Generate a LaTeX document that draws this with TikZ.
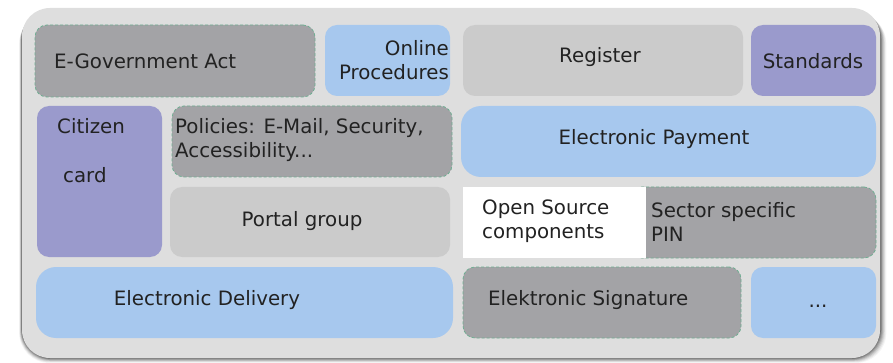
\documentclass[tikz,border=0pt]{standalone}
\usepackage{fontspec}
\setmainfont{DejaVu Sans}
\definecolor{panel}{HTML}{DEDEDE}
\definecolor{dgray}{HTML}{A3A3A6}
\definecolor{lgray}{HTML}{CBCBCB}
\definecolor{lblue}{HTML}{A7C8EE}
\definecolor{lpurp}{HTML}{9A9ACC}
\definecolor{dash}{HTML}{6FAE92}
\definecolor{txt}{HTML}{222222}
\tikzset{
  box/.style={rounded corners=12pt, inner sep=0pt, draw=none},
  dashbox/.style={box, draw=dash, line width=0.8pt, dash pattern=on 3pt off 2pt},
  lbl/.style={font=\fontsize{19.8}{24}\selectfont, text=txt, inner sep=0pt},
}
\begin{document}
\begin{tikzpicture}[x=1pt,y=-1pt]
\useasboundingbox (0,0) rectangle (893,363);
% shadow
\foreach \i/\o in {7/0.04,6/0.06,5/0.08,4/0.10,3/0.13,2/0.16,1/0.2}{
  \fill[black, opacity=\o, rounded corners=30pt] (22-0.4*\i,8+0.8*\i) rectangle (880+0.9*\i,358+0.7*\i);
}
\fill[panel, rounded corners=28pt] (22,8) rectangle (880,358);
% boxes
\node[dashbox, fill=dgray, minimum width=280pt, minimum height=72pt] (egov) at (175,61) {};
\node[box, fill=lblue, minimum width=125pt, minimum height=71pt] (online) at (387.5,60.5) {};
\node[box, fill=lgray, minimum width=280pt, minimum height=71pt] (register) at (603,60.5) {};
\node[box, fill=lpurp, minimum width=125pt, minimum height=71pt] (standards) at (813.5,60.5) {};
\node[box, fill=lpurp, minimum width=125pt, minimum height=151pt] (citizen) at (99.5,181.5) {};
\node[dashbox, fill=dgray, minimum width=280pt, minimum height=71pt] (policies) at (312,141.5) {};
\node[box, fill=lblue, rounded corners=20pt, minimum width=415pt, minimum height=71pt] (payment) at (668.5,141.5) {};
\node[box, fill=lgray, minimum width=280pt, minimum height=70pt] (portal) at (310,222) {};
\node[dashbox, fill=dgray, minimum width=246pt, minimum height=71pt] (sector) at (753,222.5) {};
\node[fill=white, inner sep=0pt, minimum width=183pt, minimum height=71pt] (opensrc) at (554.5,222.5) {};
\node[box, fill=lblue, rounded corners=20pt, minimum width=417pt, minimum height=71pt] (delivery) at (244.5,302.5) {};
\node[dashbox, fill=dgray, minimum width=278pt, minimum height=71pt] (signature) at (602,302.5) {};
\node[box, fill=lblue, minimum width=125pt, minimum height=71pt] (dots) at (813.5,302.5) {};
% labels
\node[lbl, anchor=west] (tegov) at (54,61) {E-Government Act};
\node[lbl, anchor=east, align=right] (tonline) at (449,60) {Online\\Procedures};
\node[lbl] (tregister) at (600,57) {Register};
\node[lbl] (tstandards) at (813,61) {Standards};
\node[lbl, anchor=north west, align=left] (tcitizen) at (57,118) {Citizen\\[25pt]\hspace{6pt}card};
\node[lbl, anchor=west, align=left] (tpolicies) at (175,140) {Policies: E-Mail, Security,\\Accessibility...};
\node[lbl] (tpayment) at (654,139) {Electronic Payment};
\node[lbl] (tportal) at (302,221) {Portal group};
\node[lbl, anchor=west, align=left] (topensrc) at (482,221) {Open Source\\components};
\node[lbl, anchor=west, align=left] (tsector) at (651,222) {Sector specific\\PIN};
\node[lbl] (tdelivery) at (207,300) {Electronic Delivery};
\node[lbl, anchor=west] (tsignature) at (488,300) {Elektronic Signature};
\node[lbl] (tdots) at (818,306) {...};
\end{tikzpicture}
\end{document}
